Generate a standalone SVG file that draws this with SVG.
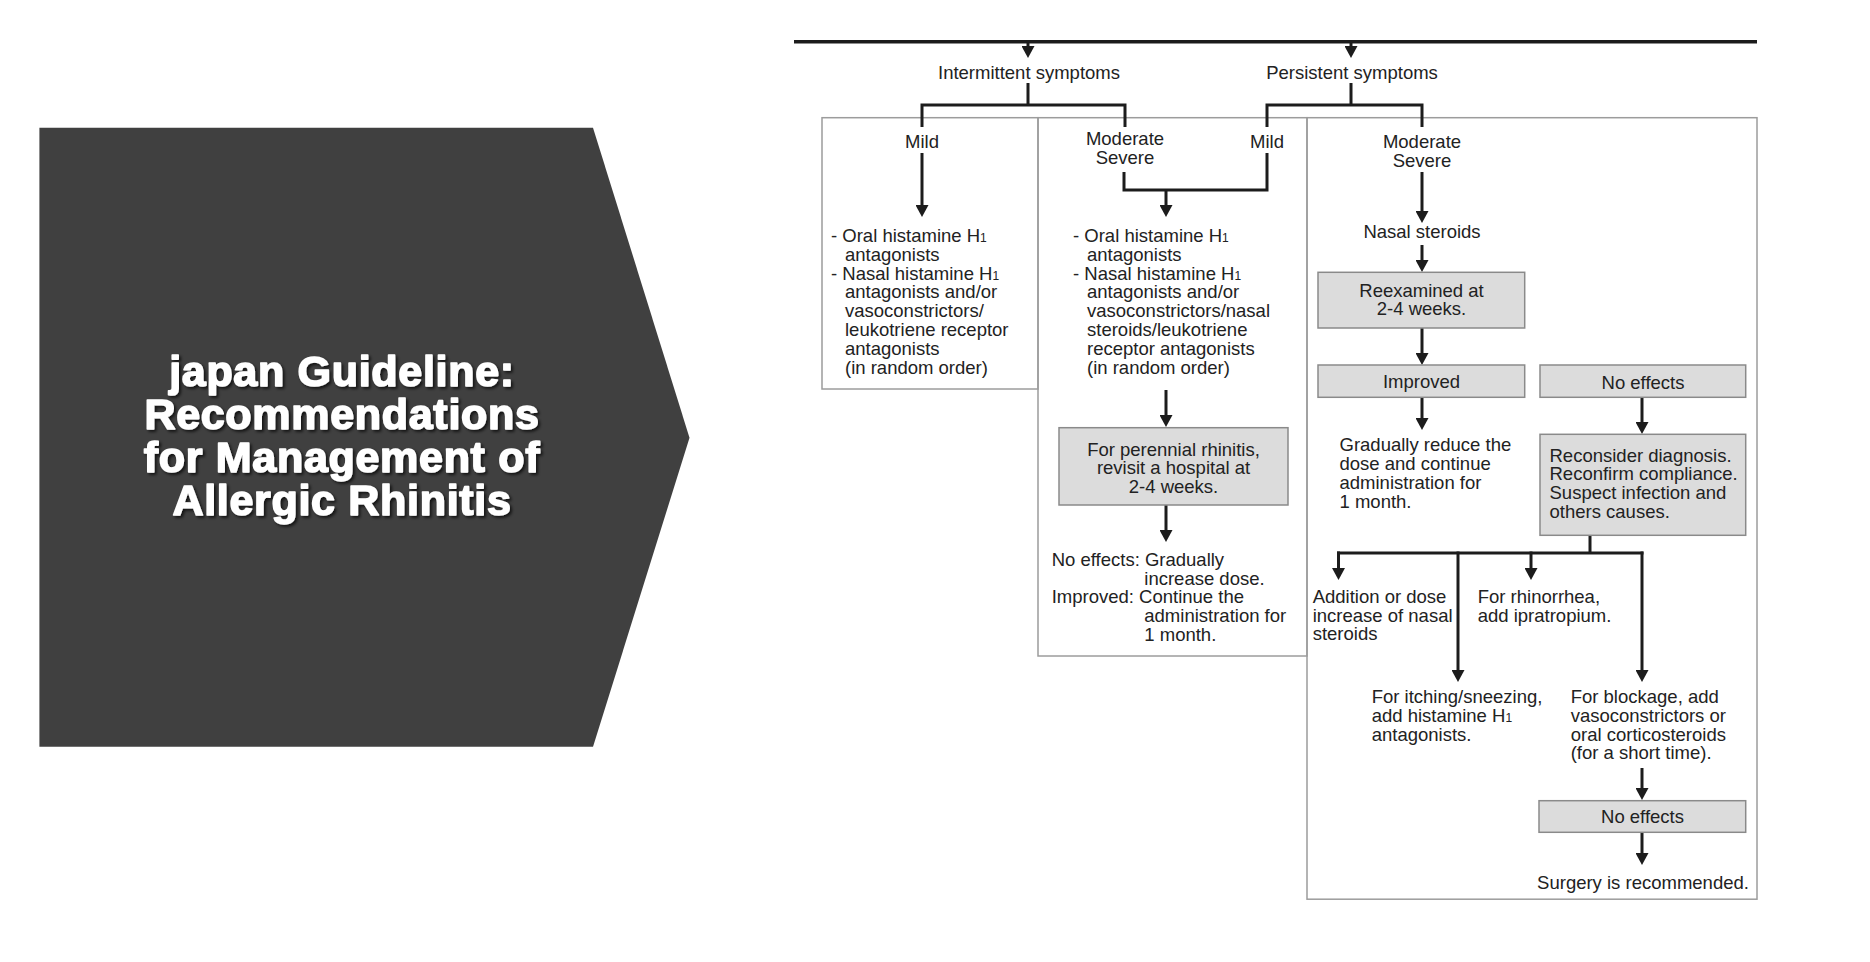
<svg xmlns="http://www.w3.org/2000/svg" width="1870" height="962" viewBox="0 0 1870 962">
<defs>
<style>
.t{font-family:"Liberation Sans",Arial,Helvetica,sans-serif;font-size:18.5px;fill:#222}
.m{text-anchor:middle}
.s{font-size:12px}
.frame{fill:none;stroke:#9c9c9c;stroke-width:1.5}
.gbox{fill:#dcdcdc;stroke:#8a8a8a;stroke-width:1.5}
.ln{fill:none;stroke:#1c1c1c;stroke-width:3;stroke-linejoin:miter;stroke-linecap:butt}
.ar{fill:none;stroke:#1c1c1c;stroke-width:3;marker-end:url(#ah)}
.title{font-family:"Liberation Sans",Arial,Helvetica,sans-serif;font-weight:bold;font-size:43px;letter-spacing:0.7px;fill:#fff;stroke:#fff;stroke-width:1.6;stroke-linejoin:round;text-anchor:middle}
</style>
<marker id="ah" viewBox="0 0 12 13" markerWidth="12" markerHeight="13" refX="5" refY="6.5" orient="auto" markerUnits="userSpaceOnUse">
<path d="M0,0 L12,6.5 L0,13 z" fill="#1c1c1c"/>
</marker>
<filter id="sh" x="-10%" y="-20%" width="120%" height="140%">
<feDropShadow dx="2" dy="2" stdDeviation="1.5" flood-color="#000" flood-opacity="0.7"/>
</filter>
</defs>
<rect width="1870" height="962" fill="#fff"/>

<g id="title-chevron">
<polygon points="39.4,127.7 593,127.7 689.5,437.8 593,746.8 39.4,746.8" fill="#404040"/>
<g filter="url(#sh)">
<text class="title" x="342" y="386">japan Guideline:</text>
<text class="title" x="342" y="429">Recommendations</text>
<text class="title" x="342" y="472">for Management of</text>
<text class="title" x="342" y="515">Allergic Rhinitis</text>
</g>
</g>

<g id="frames">
<rect class="frame" x="822" y="117.7" width="216" height="271.3"/>
<rect class="frame" x="1038" y="117.7" width="269" height="538.3"/>
<rect class="frame" x="1307" y="117.7" width="450" height="781.5"/>
</g>

<g id="connectors">
<line class="ln" x1="794" y1="41.8" x2="1757" y2="41.8" style="stroke-width:3.5"/>
<line class="ar" x1="1028" y1="42" x2="1028" y2="51"/>
<line class="ar" x1="1351" y1="42" x2="1351" y2="51"/>
<path class="ln" d="M1028,83 V105 M922,127 V105 H1125 V127"/>
<path class="ln" d="M1351,83 V105 M1267,127 V105 H1422 V127"/>
<line class="ar" x1="922" y1="153" x2="922" y2="210"/>
<path class="ln" d="M1124,172 V190 H1267 V153"/>
<line class="ar" x1="1166" y1="190" x2="1166" y2="210"/>
<line class="ar" x1="1166" y1="390" x2="1166" y2="420"/>
<line class="ar" x1="1166" y1="505" x2="1166" y2="535"/>
<line class="ar" x1="1422" y1="172" x2="1422" y2="216"/>
<line class="ar" x1="1422" y1="245" x2="1422" y2="265"/>
<line class="ar" x1="1422" y1="328" x2="1422" y2="358"/>
<line class="ar" x1="1422" y1="397" x2="1422" y2="423"/>
<line class="ar" x1="1642" y1="397" x2="1642" y2="427"/>
<line class="ln" x1="1590" y1="535" x2="1590" y2="553"/>
<line class="ln" x1="1337" y1="553" x2="1643.5" y2="553"/>
<line class="ar" x1="1338.5" y1="551.5" x2="1338.5" y2="573"/>
<line class="ar" x1="1458" y1="551.5" x2="1458" y2="675"/>
<line class="ar" x1="1531" y1="551.5" x2="1531" y2="573"/>
<line class="ar" x1="1642" y1="551.5" x2="1642" y2="675"/>
<line class="ar" x1="1642" y1="768" x2="1642" y2="793"/>
<line class="ar" x1="1642" y1="832" x2="1642" y2="858"/>
</g>

<g id="intermittent">
<text class="t m" x="1029" y="79">Intermittent symptoms</text>
</g>
<g id="persistent">
<text class="t m" x="1352" y="79">Persistent symptoms</text>
</g>

<g id="int-mild">
<text class="t m" x="922" y="148">Mild</text>
</g>
<g id="int-mild-treatment">
<text class="t" x="831" y="242">- Oral histamine H<tspan class="s">1</tspan></text>
<text class="t" x="845" y="260.8">antagonists</text>
<text class="t" x="831" y="279.6">- Nasal histamine H<tspan class="s">1</tspan></text>
<text class="t" x="845" y="298.4">antagonists and/or</text>
<text class="t" x="845" y="317.2">vasoconstrictors/</text>
<text class="t" x="845" y="336">leukotriene receptor</text>
<text class="t" x="845" y="354.8">antagonists</text>
<text class="t" x="845" y="373.6">(in random order)</text>
</g>

<g id="int-moderate">
<text class="t m" x="1125" y="145">Moderate</text>
<text class="t m" x="1125" y="163.5">Severe</text>
</g>
<g id="per-mild">
<text class="t m" x="1267" y="148">Mild</text>
</g>
<g id="mid-treatment">
<text class="t" x="1073" y="242">- Oral histamine H<tspan class="s">1</tspan></text>
<text class="t" x="1087" y="260.8">antagonists</text>
<text class="t" x="1073" y="279.6">- Nasal histamine H<tspan class="s">1</tspan></text>
<text class="t" x="1087" y="298.4">antagonists and/or</text>
<text class="t" x="1087" y="317.2">vasoconstrictors/nasal</text>
<text class="t" x="1087" y="336">steroids/leukotriene</text>
<text class="t" x="1087" y="354.8">receptor antagonists</text>
<text class="t" x="1087" y="373.6">(in random order)</text>
</g>
<g id="perennial">
<rect class="gbox" x="1059" y="427.7" width="229" height="77.3"/>
<text class="t m" x="1173.5" y="455.5">For perennial rhinitis,</text>
<text class="t m" x="1173.5" y="474">revisit a hospital at</text>
<text class="t m" x="1173.5" y="492.5">2-4 weeks.</text>
</g>
<g id="mid-followup">
<text class="t" x="1051.7" y="565.7">No effects: Gradually</text>
<text class="t" x="1144.3" y="584.5">increase dose.</text>
<text class="t" x="1051.7" y="603">Improved: Continue the</text>
<text class="t" x="1144.3" y="621.7">administration for</text>
<text class="t" x="1144.3" y="640.5">1 month.</text>
</g>

<g id="per-moderate">
<text class="t m" x="1422" y="148">Moderate</text>
<text class="t m" x="1422" y="166.5">Severe</text>
</g>
<g id="nasal-steroids">
<text class="t m" x="1422" y="238">Nasal steroids</text>
</g>
<g id="reexamined">
<rect class="gbox" x="1318" y="272.3" width="206.7" height="55.7"/>
<text class="t m" x="1421.5" y="296.7">Reexamined at</text>
<text class="t m" x="1421.5" y="315">2-4 weeks.</text>
</g>
<g id="improved">
<rect class="gbox" x="1318" y="365" width="206.7" height="32.3"/>
<text class="t m" x="1421.5" y="387.7">Improved</text>
</g>
<g id="no-effects-1">
<rect class="gbox" x="1540" y="365" width="205.7" height="32.3"/>
<text class="t m" x="1643" y="388.5">No effects</text>
</g>
<g id="reduce-dose">
<text class="t" x="1339.5" y="451">Gradually reduce the</text>
<text class="t" x="1339.5" y="470">dose and continue</text>
<text class="t" x="1339.5" y="489">administration for</text>
<text class="t" x="1339.5" y="508">1 month.</text>
</g>
<g id="reconsider">
<rect class="gbox" x="1540" y="434.3" width="205.7" height="101"/>
<text class="t" x="1549.5" y="461.7">Reconsider diagnosis.</text>
<text class="t" x="1549.5" y="480.3">Reconfirm compliance.</text>
<text class="t" x="1549.5" y="499">Suspect infection and</text>
<text class="t" x="1549.5" y="517.7">others causes.</text>
</g>
<g id="addition">
<text class="t" x="1312.7" y="602.7">Addition or dose</text>
<text class="t" x="1312.7" y="621.5">increase of nasal</text>
<text class="t" x="1312.7" y="640">steroids</text>
</g>
<g id="rhinorrhea">
<text class="t" x="1477.7" y="602.7">For rhinorrhea,</text>
<text class="t" x="1477.7" y="621.5">add ipratropium.</text>
</g>
<g id="itching">
<text class="t" x="1371.7" y="703.3">For itching/sneezing,</text>
<text class="t" x="1371.7" y="722">add histamine H<tspan class="s">1</tspan></text>
<text class="t" x="1371.7" y="740.7">antagonists.</text>
</g>
<g id="blockage">
<text class="t" x="1570.7" y="703.3">For blockage, add</text>
<text class="t" x="1570.7" y="722">vasoconstrictors or</text>
<text class="t" x="1570.7" y="740.7">oral corticosteroids</text>
<text class="t" x="1570.7" y="759.3">(for a short time).</text>
</g>
<g id="no-effects-2">
<rect class="gbox" x="1539" y="800.7" width="206.7" height="31.6"/>
<text class="t m" x="1642.5" y="823">No effects</text>
</g>
<g id="surgery">
<text class="t m" x="1643" y="889">Surgery is recommended.</text>
</g>
</svg>
